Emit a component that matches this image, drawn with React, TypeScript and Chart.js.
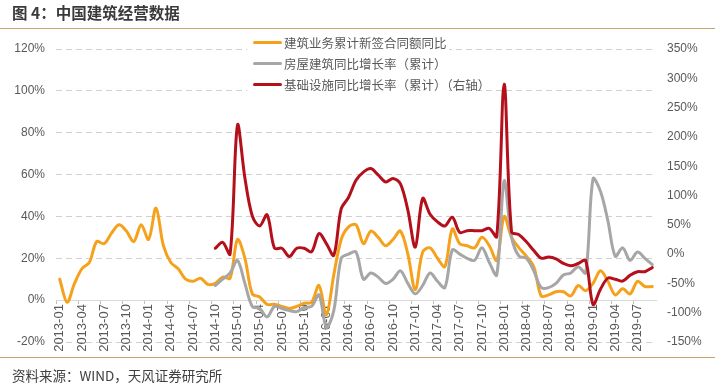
import React, { useEffect, useRef } from "react";
import { Chart, registerables } from "chart.js";

Chart.register(...registerables);

const categories: string[] = [
  "2013-01", "2013-02", "2013-03", "2013-04", "2013-05", "2013-06", "2013-07", "2013-08", "2013-09", "2013-10", "2013-11", "2013-12",
  "2014-01", "2014-02", "2014-03", "2014-04", "2014-05", "2014-06", "2014-07", "2014-08", "2014-09", "2014-10", "2014-11", "2014-12",
  "2015-01", "2015-02", "2015-03", "2015-04", "2015-05", "2015-06", "2015-07", "2015-08", "2015-09", "2015-10", "2015-11", "2015-12",
  "2016-01", "2016-02", "2016-03", "2016-04", "2016-05", "2016-06", "2016-07", "2016-08", "2016-09", "2016-10", "2016-11", "2016-12",
  "2017-01", "2017-02", "2017-03", "2017-04", "2017-05", "2017-06", "2017-07", "2017-08", "2017-09", "2017-10", "2017-11", "2017-12",
  "2018-01", "2018-02", "2018-03", "2018-04", "2018-05", "2018-06", "2018-07", "2018-08", "2018-09", "2018-10", "2018-11", "2018-12",
  "2019-01", "2019-02", "2019-03", "2019-04", "2019-05", "2019-06", "2019-07", "2019-08", "2019-09",
];

// 建筑业务累计新签合同额同比 (左轴, %)
const contractGrowth: (number | null)[] = [
  10, -1, 8, 15, 18, 28, 27, 32, 36, 33,
  28, 36, 29, 44, 26, 18, 15, 10, 9, 10.5,
  7.5, 8, 11, 10.5, 29, 20, 3, 1.5, -2, -2,
  -3, -4, -3, -1.5, -1, 7, -7, 12, 29, 35,
  36, 27, 33, 30, 26, 29, 33, 22, 5, 23,
  25, 20, 16, 34, 27, 26, 25, 30, 26, 19,
  40, 30, 25, 21, 16, 2, 2.5, 4, 4, 2,
  7, 4.5, 8, 14, 9, 2.5, 5.5, 3, 9, 6.5, 6.5,
];

// 房屋建筑同比增长率（累计） (左轴, %)
const buildingGrowth: (number | null)[] = [
  null, null, null, null, null, null, null, null, null, null,
  null, null, null, null, null, null, null, null, null, null,
  null, 7, 10, 13, 19, 8, -3, -4, -8, -3,
  -4, -5, -5.5, -3.5, -3, 2.5, -13, -5, 20, 22,
  23, 10, 13, 11, 8, 10, 14, 8, 3, 7,
  13, 9, 6, 24, 22, 20, 19, 25, 18, 12,
  57, 30, 21, 20, 14, 6, 6, 8, 12, 13,
  16, 13, 58, 52, 38, 21, 25, 19, 23, 20, 17,
];

// 基础设施同比增长率（累计） (右轴, %)
const infraGrowth: (number | null)[] = [
  null, null, null, null, null, null, null, null, null, null,
  null, null, null, null, null, null, null, null, null, null,
  null, 10, 20, 0, 220, 130, 65, 48, 67, 10,
  10, -4, 10, 10, 4, 35, 18, -2, 77, 97,
  126, 140, 146, 135, 123, 129, 120, 75, 12, 95,
  68, 55, 48, 63, 37, 40, 40, 40, 44, 30,
  290, 38, 33, 21, 6, -7, -5, -8, -16, -20,
  -16, -11, -86, -60, -41, -43, -46, -36, -30, -30, -23,
];

const seriesNames: string[] = [
  "建筑业务累计新签合同额同比",
  "房屋建筑同比增长率（累计）",
  "基础设施同比增长率（累计）（右轴）",
];

const ORANGE = "#F6A11B";
const GRAY = "#A6A6A6";
const RED = "#B4101C";
const seriesColors: string[] = [ORANGE, GRAY, RED];

const LATIN_FONT = '"Liberation Sans", Arial, "Noto Sans CJK SC", sans-serif';
const CJK_FONT = '"Noto Sans CJK SC", "Liberation Sans", sans-serif';
const GOLD = "#C9A36B";

export default function App() {
  const canvasRef = useRef<HTMLCanvasElement | null>(null);

  useEffect(() => {
    document.body.style.margin = "0";
    const canvas = canvasRef.current;
    if (!canvas) return;
    const lineCommon = {
      pointRadius: 0,
      borderWidth: 3,
      tension: 0.33,
      borderCapStyle: "round" as const,
      borderJoinStyle: "round" as const,
      fill: false,
    };
    const chart = new Chart(canvas, {
      type: "line",
      data: {
        labels: categories,
        datasets: [
          { ...lineCommon, label: seriesNames[0], data: contractGrowth, yAxisID: "y", borderColor: seriesColors[0], backgroundColor: seriesColors[0], order: 2 },
          { ...lineCommon, label: seriesNames[1], data: buildingGrowth, yAxisID: "y", borderColor: seriesColors[1], backgroundColor: seriesColors[1], order: 1 },
          { ...lineCommon, label: seriesNames[2], data: infraGrowth, yAxisID: "y1", borderColor: seriesColors[2], backgroundColor: seriesColors[2], order: 0 },
        ],
      },
      options: {
        responsive: false,
        maintainAspectRatio: false,
        animation: false,
        devicePixelRatio: 1,
        layout: { padding: { top: 49, bottom: 42, left: 0, right: 0 } },
        plugins: {
          legend: { display: false },
          tooltip: { enabled: false },
          title: { display: false },
        },
        scales: {
          x: {
            type: "category",
            position: { y: 0 } as any,
            offset: true,
            grid: {
              display: true,
              drawOnChartArea: false,
              drawTicks: true,
              tickLength: 3,
              offset: true,
              tickWidth: 1,
              tickColor: (c: any) =>
                typeof c.index === "number" && c.index % 3 === 0 ? "#BFBFBF" : "rgba(0,0,0,0)",
            },
            border: { display: true, color: "#D9D9D9", width: 1 },
            ticks: {
              autoSkip: false,
              minRotation: 90,
              maxRotation: 90,
              padding: 1,
              color: "#595959",
              font: { size: 13, family: LATIN_FONT },
              callback: (_v: any, i: number) => (i % 3 === 0 ? categories[i] : ""),
            },
          },
          y: {
            position: "left",
            min: -20,
            max: 120,
            afterFit: (s: any) => {
              s.width = 56;
            },
            grid: { color: "#D0D0D0", lineWidth: 1, drawTicks: false },
            border: { display: false, dash: [6, 4] },
            ticks: {
              stepSize: 20,
              padding: 11,
              color: "#595959",
              font: { size: 12, family: LATIN_FONT },
              callback: (v: any) => `${v}%`,
            },
          },
          y1: {
            position: "right",
            min: -150,
            max: 350,
            afterFit: (s: any) => {
              s.width = 67;
            },
            grid: { drawOnChartArea: false, drawTicks: false },
            border: { display: false },
            ticks: {
              stepSize: 50,
              padding: 11,
              color: "#595959",
              font: { size: 12, family: LATIN_FONT },
              callback: (v: any) => `${v}%`,
            },
          },
        },
      },
    });
    return () => chart.destroy();
  }, []);

  return (
    <div style={{ position: "absolute", left: 0, top: 0, width: 723, height: 384, background: "#fff", overflow: "hidden" }}>
      <canvas
        ref={canvasRef}
        width={723}
        height={384}
        style={{ position: "absolute", left: 0, top: 0, width: 723, height: 384, display: "block" }}
      />
      <div
        style={{
          position: "absolute",
          left: 12,
          top: 2,
          lineHeight: "20px",
          fontSize: 15.5,
          fontWeight: 700,
          color: "#3A3A3A",
          fontFamily: CJK_FONT,
          whiteSpace: "nowrap",
        }}
      >
        图 4：中国建筑经营数据
      </div>
      <div style={{ position: "absolute", left: 0, top: 28, width: 715, height: 1, background: GOLD }} />
      <div
        style={{
          position: "absolute",
          left: 247,
          top: 32,
          width: 202,
          height: 63,
          background: "#fff",
          paddingLeft: 6,
          boxSizing: "border-box",
        }}
      >
        {seriesNames.map((name, i) => (
          <div key={name} style={{ display: "flex", alignItems: "center", height: 21, whiteSpace: "nowrap" }}>
            <div style={{ width: 29, height: 3, borderRadius: 1.5, background: seriesColors[i], marginRight: 2, flex: "none" }} />
            <span style={{ fontSize: 12.5, color: "#595959", fontFamily: CJK_FONT, lineHeight: "21px" }}>{name}</span>
          </div>
        ))}
      </div>
      <div style={{ position: "absolute", left: 0, top: 357, width: 715, height: 1, background: GOLD }} />
      <div
        style={{
          position: "absolute",
          left: 12,
          top: 365,
          lineHeight: "20px",
          fontSize: 13.5,
          color: "#404040",
          fontFamily: CJK_FONT,
          whiteSpace: "nowrap",
        }}
      >
        资料来源：WIND，天风证券研究所
      </div>
    </div>
  );
}
